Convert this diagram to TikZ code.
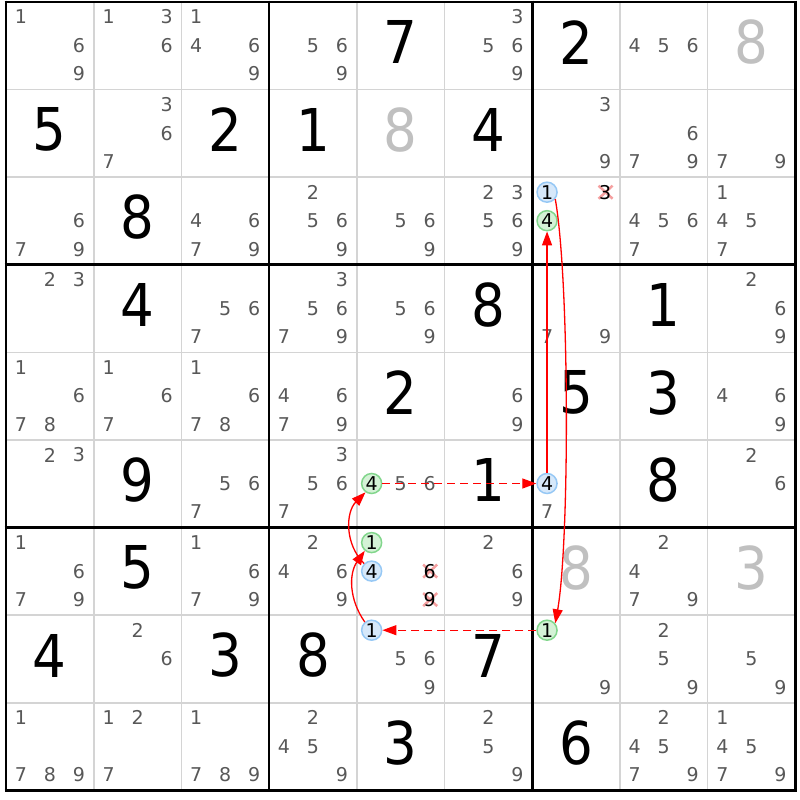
\documentclass[tikz,border=0pt]{standalone}
\usepackage{fontspec}
\setmainfont{DejaVu Sans}
\newfontfamily\bigfont[FakeStretch=0.9]{DejaVu Sans}
\usetikzlibrary{arrows.meta}
\definecolor{candgray}{RGB}{88,88,88}
\definecolor{solvedgray}{RGB}{192,192,192}
\definecolor{thingrid}{RGB}{212,212,212}
\definecolor{bluefill}{RGB}{214,232,250}
\definecolor{blueline}{RGB}{150,200,245}
\definecolor{greenfill}{RGB}{212,242,214}
\definecolor{greenline}{RGB}{130,214,140}
\definecolor{xred}{RGB}{245,160,160}
\definecolor{linkred}{RGB}{255,0,0}
\begin{document}
\begin{tikzpicture}[x=1pt,y=1pt,
  cand/.style={inner sep=0pt, text=candgray, font=\fontsize{19}{19}\selectfont},
  elim/.style={cand, text=black},
  given/.style={inner sep=0pt, text=black, font=\bigfont\fontsize{59}{59}\selectfont},
  solved/.style={given, text=solvedgray},
  bluecand/.style={circle, inner sep=0pt, minimum size=20pt, fill=bluefill, draw=blueline, line width=1.5pt, text=black, font=\fontsize{19}{19}\selectfont},
  greencand/.style={bluecand, fill=greenfill, draw=greenline},
  thinline/.style={thingrid, line width=1.6pt},
  thickline/.style={black, line width=2.6pt},
  xmark/.style={xred, line width=2.5pt},
  link/.style={linkred, line width=1.3pt, -{Triangle[length=14pt,width=10pt]}},
  weaklink/.style={link, dash pattern=on 8pt off 5pt}
]
\useasboundingbox (0,0) rectangle (800,800);
\fill[white] (0,0) rectangle (800,800);
% grid
\foreach \i in {1,2,4,5,7,8} {
  \draw[thinline] ({6+\i*87.7},798) -- ({6+\i*87.7},{798-9*87.6});
  \draw[thinline] (6,{798-\i*87.6}) -- ({6+9*87.7},{798-\i*87.6});
}
\foreach \i in {0,3,6,9} {
  \draw[thickline] ({6+\i*87.7},{798+1.3}) -- ({6+\i*87.7},{798-9*87.6-1.3});
  \draw[thickline] ({6-1.3},{798-\i*87.6}) -- ({6+9*87.7+1.3},{798-\i*87.6});
}
% given digits
\foreach \r/\c/\d in {1/5/7,1/7/2,2/1/5,2/3/2,2/4/1,2/6/4,3/2/8,4/2/4,4/6/8,4/8/1,5/5/2,5/7/5,5/8/3,6/2/9,6/6/1,6/8/8,7/2/5,8/1/4,8/3/3,8/4/8,8/6/7,9/5/3,9/7/6}
  \node[given] (g\r\c) at ({6+(\c-0.5)*87.7},{798-(\r-0.5)*87.6+3.5}) {\d};
% solved digits
\foreach \r/\c/\d in {1/9/8,2/5/8,7/7/8,7/9/3}
  \node[solved] (s\r\c) at ({6+(\c-0.5)*87.7},{798-(\r-0.5)*87.6+3.5}) {\d};
% candidates
\foreach \r/\c/\ds in {1/1/{1,6,9},1/2/{1,3,6},1/3/{1,4,6,9},1/4/{5,6,9},1/6/{3,5,6,9},1/8/{4,5,6},
  2/2/{3,6,7},2/7/{3,9},2/8/{6,7,9},2/9/{7,9},
  3/1/{6,7,9},3/3/{4,6,7,9},3/4/{2,5,6,9},3/5/{5,6,9},3/6/{2,3,5,6,9},3/8/{4,5,6,7},3/9/{1,4,5,7},
  4/1/{2,3},4/3/{5,6,7},4/4/{3,5,6,7,9},4/5/{5,6,9},4/7/{7,9},4/9/{2,6,9},
  5/1/{1,6,7,8},5/2/{1,6,7},5/3/{1,6,7,8},5/4/{4,6,7,9},5/6/{6,9},5/9/{4,6,9},
  6/1/{2,3},6/3/{5,6,7},6/4/{3,5,6,7},6/5/{5,6},6/7/{7},6/9/{2,6},
  7/1/{1,6,7,9},7/3/{1,6,7,9},7/4/{2,4,6,9},7/6/{2,6,9},7/8/{2,4,7,9},
  8/2/{2,6},8/5/{5,6,9},8/7/{9},8/8/{2,5,9},8/9/{5,9},
  9/1/{1,7,8,9},9/2/{1,2,7},9/3/{1,7,8,9},9/4/{2,4,5,9},9/6/{2,5,9},9/8/{2,4,5,7,9},9/9/{1,4,5,7,9}} {
  \foreach \d in \ds {
    \pgfmathsetmacro\px{6+(\c-0.5)*87.7+(mod(\d-1,3)-1)*29}
    \pgfmathsetmacro\py{798-(\r-0.5)*87.6+0.3-(floor((\d-1)/3)-1)*28.5}
    \node[cand] (n\r\c\d) at (\px,\py) {\d};
  }
}
% eliminated candidates
\foreach \r/\c/\d in {3/7/3,7/5/6,7/5/9} {
  \pgfmathsetmacro\px{6+(\c-0.5)*87.7+(mod(\d-1,3)-1)*29}
  \pgfmathsetmacro\py{798-(\r-0.5)*87.6+0.3-(floor((\d-1)/3)-1)*28.5}
  \draw[xmark] (\px-6.5,\py+6.5) -- (\px+7.5,\py-6.5) (\px-6.5,\py-6.5) -- (\px+7.5,\py+6.5);
  \node[elim] (n\r\c\d) at (\px,\py) {\d};
}
% blue chain candidates
\foreach \r/\c/\d in {3/7/1,6/7/4,7/5/4,8/5/1} {
  \pgfmathsetmacro\px{6+(\c-0.5)*87.7+(mod(\d-1,3)-1)*29}
  \pgfmathsetmacro\py{798-(\r-0.5)*87.6+0.3-(floor((\d-1)/3)-1)*28.5}
  \node[bluecand] (n\r\c\d) at (\px,\py) {\d};
}
% green chain candidates
\foreach \r/\c/\d in {3/7/4,6/5/4,7/5/1,8/7/1} {
  \pgfmathsetmacro\px{6+(\c-0.5)*87.7+(mod(\d-1,3)-1)*29}
  \pgfmathsetmacro\py{798-(\r-0.5)*87.6+0.3-(floor((\d-1)/3)-1)*28.5}
  \node[greencand] (n\r\c\d) at (\px,\py) {\d};
}
% links
\draw[link] (n371.-40) to[out=-80,in=80,looseness=0.5] (n871.40);
\draw[weaklink] (n871) -- (n851);
\draw[link] (n851.130) to[out=125,in=-125] (n751.-130);
\draw[link] (n754.135) to[out=135,in=-135] (n654.-125);
\draw[weaklink] (n654) -- (n674);
\draw[link] (n674) -- (n374);
\end{tikzpicture}
\end{document}
